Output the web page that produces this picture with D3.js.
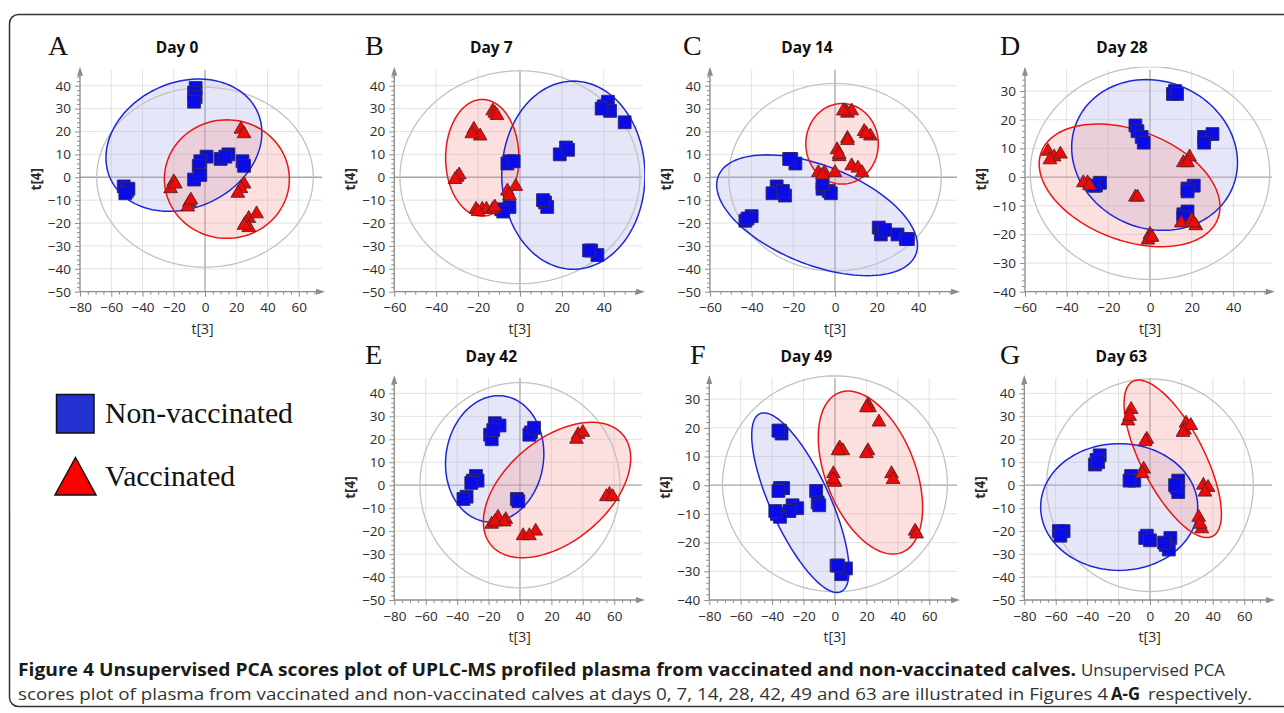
<!DOCTYPE html>
<html><head><meta charset="utf-8">
<script src="https://cdn.jsdelivr.net/npm/d3@7"></script>
<style>body{margin:0;background:#fff}</style>
</head><body><svg id="c" width="1284" height="713"></svg>
<script>
// ---------------- DATA ----------------
const panelLetters = ["A","B","C","D","E","F","G"];
const panelTitles = ["Day 0","Day 7","Day 14","Day 28","Day 42","Day 49","Day 63"];
const seriesNames = ["Non-vaccinated","Vaccinated"];

const xTicksWide = [-80,-60,-40,-20,0,20,40,60];
const xTicksNarrow = [-60,-40,-20,0,20,40];
const yTicksTall = [-50,-40,-30,-20,-10,0,10,20,30,40];
const yTicksShort = [-40,-30,-20,-10,0,10,20,30];

// scores [t3, t4]
const nonVacDay0 = [[-6,39],[-7,37],[-6,35],[-7,33],[-52,-4],[-50,-6],[-49,-5],[-51,-7],[1,9],[-3,7],[10,8],[15,10],[13,9],[24,7],[25,5],[-4,5],[-7,-1],[-3,1]];
const vacDay0 = [[23,21],[25,19],[-20,-2],[-22,-5],[-19,-3],[-10,-11],[-11,-13],[-9,-10],[25,-3],[23,-5],[21,-7],[28,-18],[33,-16],[26,-20],[28,-22],[25,-21]];
const nonVacDay7 = [[40,31],[42,33],[43,29],[39,30],[50,24],[22,13],[19,10],[23,12],[-5,7],[-6,6],[-3,7],[12,-11],[13,-13],[11,-10],[-5,-13],[-9,-14],[-8,-15],[34,-32],[37,-34],[33,-32]];
const vacDay7 = [[-13,29],[-12,28],[-11,27],[-22,21],[-19,18],[-23,19],[-30,0],[-29,1],[-31,-1],[-21,-14],[-18,-14],[-16,-14],[-13,-14],[-12,-13],[-20,-15],[-6,-6],[-2,-4],[-5,-8]];
const nonVacDay14 = [[-21,8],[-19,6],[-22,8],[-28,-4],[-24,-8],[-30,-7],[-25,-6],[-43,-19],[-40,-17],[-42,-18],[-6,-5],[-3,-6],[-2,-7],[-6,-3],[21,-22],[22,-25],[24,-23],[30,-25],[34,-27],[35,-27]];
const vacDay14 = [[5,29],[6,28],[8,29],[4,29],[14,20],[17,18],[15,19],[6,17],[6,16],[1,12],[2,9],[2,10],[-8,2],[-5,2],[-6,1],[0,2],[8,5],[11,4],[13,2]];
const nonVacDay28 = [[12,30],[11,29],[13,29],[-7,18],[-6,16],[-4,14],[-3,12],[26,14],[30,15],[26,12],[-26,-3],[-24,-2],[-27,-3],[21,-3],[18,-4],[18,-5],[16,-13],[18,-12],[16,-14]];
const vacDay28 = [[-49,9],[-46,7],[-43,8],[-48,6],[-30,-2],[-32,-2],[-29,-3],[-7,-7],[-6,-7],[0,-20],[0,-21],[-1,-22],[1,-21],[16,5],[19,7],[18,5],[15,-16],[20,-15],[22,-17],[21,-16]];
const nonVacDay42 = [[-16,27],[-13,26],[-19,22],[-18,20],[-17,24],[7,23],[6,22],[9,25],[-28,4],[-30,2],[-27,2],[-31,1],[-34,-5],[-36,-6],[-2,-6],[-1,-7]];
const vacDay42 = [[37,22],[40,23],[36,20],[57,-4],[55,-5],[59,-5],[-18,-17],[-14,-14],[-9,-15],[-10,-16],[-16,-16],[2,-22],[10,-20],[6,-22]];
const nonVacDay49 = [[-35,19],[-34,18],[-36,19],[-35,-1],[-33,-1],[-36,-2],[-27,-7],[-24,-8],[-29,-9],[-37,-10],[-35,-11],[-38,-9],[-12,-2],[-11,-6],[-10,-7],[1,-28],[4,-31],[7,-29],[2,-28]];
const vacDay49 = [[21,28],[22,27],[20,27],[28,22],[3,13],[5,12],[2,12],[21,12],[20,11],[-1,4],[0,1],[-1,2],[36,4],[37,2],[51,-16],[52,-17]];
const nonVacDay63 = [[-32,13],[-34,11],[-35,9],[-33,10],[-12,4],[-10,2],[-13,2],[-58,-20],[-55,-20],[-57,-22],[-2,-22],[-3,-23],[0,-24],[13,-23],[10,-26],[12,-28],[9,-25],[18,2],[17,-1],[18,-3],[16,0]];
const vacDay63 = [[-12,33],[-14,28],[-13,30],[-2,20],[-3,19],[-4,7],[-5,5],[23,27],[22,24],[26,26],[21,23],[34,0],[37,-1],[35,-3],[31,-14],[33,-19],[32,-17]];

// ellipses: [centre t3, centre t4, half-extent t3, half-extent t4, tilt]  order: Hotelling, non-vacc, vacc
const ellipsesDay0  = [[0,0,69.3,39.3,0],[-13.5,14,49.9,28.9,0.19],[14,-0.8,40,25.9,0]];
const ellipsesDay7  = [[0,0,57.3,46.5,0],[25.5,0.9,34.2,41.1,0],[-18,8.5,17.5,25.5,0]];
const ellipsesDay14 = [[0,0,51,41,0],[-8.6,-16.6,48.2,26.4,-0.5],[3.4,14.6,17.4,17.6,0]];
const ellipsesDay28 = [[0,1.4,57.5,37.1,0],[2.2,7.7,39.8,26.3,-0.1],[-9.8,-2.9,43.4,21.4,-0.35]];
const ellipsesDay42 = [[0,0,63.7,44.7,0],[-16.1,11.5,31.3,27.5,0.08],[23.6,-2.1,46.9,29.5,0.47]];
const ellipsesDay49 = [[0,0.5,71.6,37.6,0],[-22,-6.1,31,31.3,-0.75],[22.6,4.4,33.2,28.4,-0.43]];
const ellipsesDay63 = [[0,0,65.8,46.3,0],[-19.6,-9.5,50,27.6,0],[14.5,11.5,31,34.3,-0.7]];

const nonVac = [nonVacDay0,nonVacDay7,nonVacDay14,nonVacDay28,nonVacDay42,nonVacDay49,nonVacDay63];
const vac = [vacDay0,vacDay7,vacDay14,vacDay28,vacDay42,vacDay49,vacDay63];
const ellipses = [ellipsesDay0,ellipsesDay7,ellipsesDay14,ellipsesDay28,ellipsesDay42,ellipsesDay49,ellipsesDay63];
const xTicks = [xTicksWide,xTicksNarrow,xTicksNarrow,xTicksNarrow,xTicksWide,xTicksWide,xTicksWide];
const yTicks = [yTicksTall,yTicksTall,yTicksTall,yTicksShort,yTicksTall,yTicksShort,yTicksTall];
const xDomains = [[-80,76.8],[-60,59.7],[-60,60],[-60,60],[-80,79.6],[-80,79.6],[-80,79.6]];
const yDomains = [[-50,48.3],[-50,48.3],[-50,48.3],[-40,38.5],[-50,48],[-40,38.4],[-50,48]];

// ---------------- LAYOUT ----------------
const layout = [
  {left:80, right:325, top:66.7, bottom:291.7},
  {left:394.3, right:645, top:66.7, bottom:291.7},
  {left:710, right:960, top:66.7, bottom:291.7},
  {left:1025, right:1275, top:66.7, bottom:291.7},
  {left:394.3, right:645, top:375, bottom:600},
  {left:709.3, right:960, top:375, bottom:600},
  {left:1024.3, right:1275, top:375, bottom:600}
];

const SANS = "'Open Sans','Noto Sans',sans-serif";
const SERIF = "'Liberation Serif','Times New Roman',serif";
const svg = d3.select("#c");

// frame
svg.append("rect").attr("x",9.5).attr("y",14.5).attr("width",1400).attr("height",692)
  .attr("rx",9).attr("fill","none").attr("stroke","#333").attr("stroke-width",1.5);

const defs = svg.append("defs");

function ellipsePoints(e){
  const [cx,cy,rx,ry,s] = e; const phi = Math.asin(s);
  return d3.range(0,361,3).map(a=>{const t=a*Math.PI/180; return [cx+rx*Math.cos(t), cy+ry*Math.sin(t+phi)];});
}

panelTitles.forEach((title,i)=>{
  const L = layout[i];
  const x = d3.scaleLinear().domain(xDomains[i]).range([L.left,L.right]);
  const y = d3.scaleLinear().domain(yDomains[i]).range([L.bottom,L.top]);
  const g = svg.append("g");
  const xt = xTicks[i], yt = yTicks[i];
  const cid = "clip"+i;
  defs.append("clipPath").attr("id",cid).append("rect")
    .attr("x",L.left).attr("y",L.top).attr("width",L.right-L.left).attr("height",L.bottom-L.top);

  // grid
  g.append("g").selectAll("line").data(xt.filter(v=>v!==0 && v!==xDomains[i][0])).join("line")
    .attr("x1",d=>x(d)).attr("x2",d=>x(d)).attr("y1",L.bottom).attr("y2",L.top+3)
    .attr("stroke","#e2e2e2").attr("stroke-width",1);
  g.append("g").selectAll("line").data(yt.filter(v=>v!==0 && v!==yDomains[i][0])).join("line")
    .attr("y1",d=>y(d)).attr("y2",d=>y(d)).attr("x1",L.left).attr("x2",L.right-3)
    .attr("stroke","#e2e2e2").attr("stroke-width",1);
  // zero lines
  g.append("line").attr("x1",x(0)).attr("x2",x(0)).attr("y1",L.bottom).attr("y2",L.top+3)
    .attr("stroke","#a6a6a6").attr("stroke-width",1.3);
  g.append("line").attr("x1",L.left).attr("x2",L.right-3).attr("y1",y(0)).attr("y2",y(0))
    .attr("stroke","#a6a6a6").attr("stroke-width",1.3);

  // ellipses
  const line = d3.line().x(d=>x(d[0])).y(d=>y(d[1])).curve(d3.curveLinearClosed);
  const eg = g.append("g").attr("clip-path",`url(#${cid})`);
  const [hot, eb, er] = ellipses[i];
  eg.append("path").attr("d",line(ellipsePoints(eb))).attr("fill","rgb(175,180,232)").attr("fill-opacity",0.32).attr("stroke","none");
  eg.append("path").attr("d",line(ellipsePoints(er))).attr("fill","rgb(245,150,150)").attr("fill-opacity",0.3).attr("stroke","none");
  eg.append("path").attr("d",line(ellipsePoints(hot))).attr("fill","none").attr("stroke","#c2c2c2").attr("stroke-width",1.3);
  eg.append("path").attr("d",line(ellipsePoints(eb))).attr("fill","none").attr("stroke","#1c28d8").attr("stroke-width",1.5);
  eg.append("path").attr("d",line(ellipsePoints(er))).attr("fill","none").attr("stroke","#ee1414").attr("stroke-width",1.5);

  // axes
  g.append("g").attr("transform",`translate(0,${L.bottom})`)
    .call(d3.axisBottom(x).tickValues(xt).tickSize(5).tickSizeOuter(0).tickPadding(6));
  const xMinor = d3.range(Math.ceil(xDomains[i][0]/5)*5, xDomains[i][1]-3, 5).filter(v=>v%20!==0);
  g.append("g").attr("transform",`translate(0,${L.bottom})`)
    .call(d3.axisBottom(x).tickValues(xMinor).tickSize(3).tickFormat("").tickSizeOuter(0));
  g.append("g").attr("transform",`translate(${L.left},0)`)
    .call(d3.axisLeft(y).tickValues(yt).tickSize(5).tickSizeOuter(0).tickPadding(4));
  const yMinor = d3.range(yDomains[i][0], yDomains[i][1]-3, 2).filter(v=>v%10!==0);
  g.append("g").attr("transform",`translate(${L.left},0)`)
    .call(d3.axisLeft(y).tickValues(yMinor).tickSize(3).tickFormat("").tickSizeOuter(0));
  g.selectAll(".domain").remove();
  g.selectAll(".tick line").attr("stroke","#8c8c8c");
  g.selectAll(".tick text").attr("fill","#2a2a2a").attr("font-size",13.5).attr("font-family",SANS);

  // axis lines with arrows
  g.append("line").attr("x1",L.left).attr("x2",L.left).attr("y1",L.bottom).attr("y2",L.top+6)
    .attr("stroke","#8c8c8c").attr("stroke-width",1.3);
  g.append("path").attr("d",`M${L.left-3},${L.top+9}L${L.left},${L.top}L${L.left+3},${L.top+9}Z`).attr("fill","#8c8c8c");
  g.append("line").attr("x1",L.left).attr("x2",L.right-6).attr("y1",L.bottom).attr("y2",L.bottom)
    .attr("stroke","#8c8c8c").attr("stroke-width",1.3);
  g.append("path").attr("d",`M${L.right-9},${L.bottom-3}L${L.right},${L.bottom}L${L.right-9},${L.bottom+3}Z`).attr("fill","#8c8c8c");

  // points
  const sq = d3.symbol().type(d3.symbolSquare).size(165);
  const tri = d3.symbol().type(d3.symbolTriangle).size(82);
  g.append("g").selectAll("path").data(nonVac[i]).join("path")
    .attr("d",sq).attr("transform",d=>`translate(${x(d[0])},${y(d[1])})`)
    .attr("fill","#0b0be6").attr("stroke","#2b2b66").attr("stroke-width",0.9);
  g.append("g").selectAll("path").data(vac[i]).join("path")
    .attr("d",tri).attr("transform",d=>`translate(${x(d[0])},${y(d[1])})`)
    .attr("fill","#ec0a0a").attr("stroke","#5e2222").attr("stroke-width",0.9);

  // labels
  g.append("text").attr("x",(L.left+L.right)/2).attr("y",L.bottom+42).attr("text-anchor","middle")
    .attr("font-family",SANS).attr("font-size",14).attr("fill","#2a2a2a").text("t[3]");
  g.append("text").attr("transform",`translate(${L.left-44},${(L.top+L.bottom)/2}) rotate(-90)`)
    .attr("text-anchor","middle").attr("dy","0.35em").attr("font-weight","bold")
    .attr("font-family",SANS).attr("font-size",13.5).attr("fill","#2a2a2a").text("t[4]");
  g.append("text").attr("x",L.left+97).attr("y",L.top-13.5).attr("text-anchor","middle")
    .attr("font-family",SANS).attr("font-weight","bold").attr("font-size",15.5).attr("fill","#111").text(title);
  const letterX = [48,365,683,1000,365,690,1000][i];
  g.append("text").attr("x",letterX).attr("y",L.top-11.5)
    .attr("font-family",SERIF).attr("font-size",28).attr("fill","#111").text(panelLetters[i]);
});

// legend
const lg = svg.append("g");
lg.append("rect").attr("x",56.5).attr("y",394.5).attr("width",37.5).attr("height",38.5)
  .attr("fill","#2532d2").attr("stroke","#111").attr("stroke-width",1.5);
lg.append("text").attr("x",105).attr("y",423).attr("font-family",SERIF).attr("font-size",29.7).attr("fill","#111").text(seriesNames[0]);
lg.append("path").attr("d","M55,495L96,495L75.5,457.5Z").attr("fill","#ff0000").attr("stroke","#111").attr("stroke-width",1.5);
lg.append("text").attr("x",105).attr("y",485.5).attr("font-family",SERIF).attr("font-size",29.7).attr("fill","#111").text(seriesNames[1]);

// caption
const cap = svg.append("g").attr("font-family",SANS).attr("font-size",17);
cap.append("text").attr("x",18).attr("y",676).attr("font-weight","bold").attr("fill","#1a1a1a")
  .attr("textLength",1058).attr("lengthAdjust","spacingAndGlyphs")
  .text("Figure 4 Unsupervised PCA scores plot of UPLC-MS profiled plasma from vaccinated and non-vaccinated calves.");
cap.append("text").attr("x",1081).attr("y",676).attr("fill","#333")
  .attr("textLength",144).attr("lengthAdjust","spacingAndGlyphs").text("Unsupervised PCA");
cap.append("text").attr("x",18).attr("y",700).attr("fill","#333")
  .attr("textLength",1090).attr("lengthAdjust","spacingAndGlyphs")
  .text("scores plot of plasma from vaccinated and non-vaccinated calves at days 0, 7, 14, 28, 42, 49 and 63 are illustrated in Figures 4");
cap.append("text").attr("x",1111).attr("y",700).attr("font-weight","bold").attr("fill","#1a1a1a")
  .attr("textLength",29).attr("lengthAdjust","spacingAndGlyphs").text("A-G");
cap.append("text").attr("x",1148).attr("y",700).attr("fill","#333")
  .attr("textLength",104).attr("lengthAdjust","spacingAndGlyphs").text("respectively.");
</script></body></html>
